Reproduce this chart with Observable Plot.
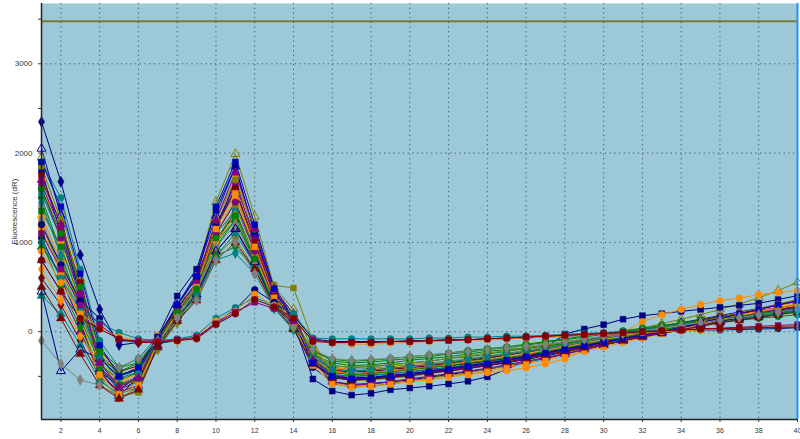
<!DOCTYPE html>
<html><head><meta charset="utf-8">
<script src="https://cdn.jsdelivr.net/npm/d3@7"></script>
<script src="https://cdn.jsdelivr.net/npm/@observablehq/plot@0.6"></script>
<style>
html,body{margin:0;padding:0;background:#fff;}
#chart svg{display:block;}
</style></head>
<body><div id="chart"></div>
<script>
const cycles = [1,2,3,4,5,6,7,8,9,10,11,12,13,14,15,16,17,18,19,20,21,22,23,24,25,26,27,28,29,30,31,32,33,34,35,36,37,38,39,40];
const xTicks = [2,4,6,8,10,12,14,16,18,20,22,24,26,28,30,32,34,36,38,40];
const yTicks = [-500,0,500,1000,1500,2000,2500,3000,3500];
const yGrid = [0,1000,2000,3000];
const threshold = 3475;

const m01 = [2350,1680,860,250,-150,-120,-80,150,420,1150,1700,1050,500,150,-250,-420,-450,-440,-420,-400,-380,-360,-330,-300,-260,-220,-180,-140,-100,-60,-20,20,60,100,140,180,220,260,300,340];
const m02 = [1950,1350,600,-450,-700,-550,-100,250,650,1450,1990,1290,500,250,-200,-420,-480,-470,-450,-420,-390,-360,-330,-290,-250,-210,-170,-130,-90,-50,-10,40,90,140,190,250,310,380,460,554];
const m03 = [1800,1100,450,-400,-650,-500,-50,400,700,1360,1850,1100,450,100,-530,-665,-710,-690,-650,-630,-610,-585,-555,-505,-420,-325,-180,-26,30,79,140,180,202,228,250,273,295,318,360,404];
const m04 = [1700,1000,300,-350,-600,-450,-80,300,600,1250,1750,1000,420,150,-350,-550,-600,-590,-560,-520,-505,-490,-475,-460,-435,-405,-360,-305,-210,-120,-10,112,190,250,303,348,376,415,440,460];
const m05 = [1500,900,200,-300,-450,-350,-60,200,500,1100,1450,950,380,180,-250,-350,-380,-370,-350,-320,-300,-280,-250,-220,-200,-180,-150,-120,-90,-60,-30,0,30,60,80,110,130,150,170,190];
const m06 = [1650,1150,500,-400,-600,-500,-100,250,550,1200,1650,1050,420,120,-300,-480,-520,-510,-490,-470,-450,-430,-400,-370,-340,-300,-260,-220,-170,-120,-70,-20,30,80,120,160,200,240,270,300];
const m07 = [1900,1500,700,-100,-400,-300,-50,280,550,1200,1550,900,350,60,-300,-450,-470,-460,-440,-420,-400,-380,-350,-330,-300,-270,-230,-190,-150,-110,-70,-30,10,50,90,120,150,180,210,240];
const m08 = [600,300,-100,-500,-650,-550,-120,200,480,1000,1350,800,300,80,-300,-450,-470,-460,-440,-420,-400,-380,-360,-330,-300,-270,-230,-190,-150,-110,-70,-30,10,50,80,110,140,170,200,230];
const m09 = [1400,900,450,-250,-550,-400,-50,250,550,1150,1550,950,400,150,-300,-400,-420,-410,-390,-370,-350,-330,-300,-270,-240,-210,-180,-150,-110,-80,-40,0,40,80,110,150,180,210,240,270];
const m10 = [1200,700,200,-600,-720,-680,-150,150,450,1000,1400,900,520,490,-100,-500,-550,-540,-520,-500,-470,-440,-410,-380,-340,-300,-260,-220,-180,-140,-100,-60,-20,20,60,100,140,180,220,260];
const m11 = [2050,1300,350,-420,-720,-500,-80,300,650,1300,1850,1100,450,150,-300,-500,-540,-530,-510,-490,-460,-440,-410,-380,-350,-310,-270,-230,-190,-150,-100,-50,0,40,80,120,160,200,240,280];
const m12 = [1300,800,250,-200,-500,-400,-50,250,500,1100,1500,950,380,100,-200,-400,-430,-420,-400,-380,-360,-340,-310,-280,-250,-220,-180,-140,-110,-70,-30,10,50,90,130,170,210,250,290,330];
const m13 = [950,650,150,-350,-550,-450,-100,200,450,950,1250,800,320,80,-250,-380,-400,-390,-370,-350,-330,-300,-280,-250,-220,-190,-160,-130,-100,-60,-30,10,40,70,100,130,160,190,210,240];
const m14 = [800,450,0,-450,-680,-600,-150,150,400,900,1150,750,300,50,-350,-500,-520,-510,-490,-470,-450,-420,-390,-360,-330,-290,-250,-210,-170,-130,-90,-50,-10,30,70,110,150,190,230,260];
const m15 = [1550,1050,400,-300,-500,-400,-70,220,520,1100,1350,850,350,100,-250,-420,-440,-430,-410,-390,-370,-350,-320,-290,-260,-230,-200,-160,-120,-80,-40,0,40,70,100,130,160,190,220,250];
const m16 = [1050,600,100,-450,-600,-500,-80,300,600,1200,1600,950,380,60,-400,-560,-590,-580,-560,-540,-510,-480,-450,-420,-380,-340,-300,-250,-200,-150,-100,-50,0,40,80,120,160,200,240,280];
const m17 = [1750,1200,550,-200,-450,-380,-60,260,540,1150,1600,1000,400,130,-280,-430,-450,-440,-420,-400,-380,-350,-320,-290,-260,-230,-190,-150,-110,-70,-30,10,50,90,130,170,200,230,260,290];
const m18 = [1100,800,300,-250,-600,-550,-200,100,380,850,1050,700,320,100,-250,-380,-400,-390,-370,-350,-330,-300,-270,-240,-210,-180,-150,-120,-90,-60,-30,10,40,70,100,140,170,200,230,260];
const m19 = [1350,950,350,-250,-480,-420,-80,220,480,1000,1250,800,330,90,-200,-330,-350,-340,-320,-300,-280,-250,-230,-200,-180,-150,-120,-90,-60,-30,0,30,60,90,120,150,170,190,210,230];
const m20 = [700,350,-50,-380,-550,-480,-90,220,480,1000,1300,850,350,120,-300,-450,-470,-460,-440,-420,-400,-370,-340,-310,-280,-250,-210,-170,-130,-90,-50,-10,30,70,110,150,190,230,260,290];
const m21 = [1600,1050,400,-350,-600,-500,-100,230,500,1100,1450,900,360,100,-330,-480,-500,-490,-470,-450,-420,-400,-370,-340,-310,-270,-230,-190,-150,-110,-70,-30,10,50,90,130,170,210,250,280];
const m22 = [400,200,-150,-550,-700,-620,-180,120,380,850,1100,750,300,40,-350,-480,-500,-490,-470,-450,-430,-400,-370,-340,-310,-280,-240,-200,-160,-120,-80,-40,0,40,80,110,140,170,200,230];
const m23 = [1250,750,250,-350,-600,-500,-120,200,450,950,1200,780,320,60,-300,-420,-440,-430,-410,-390,-370,-340,-310,-280,-250,-220,-190,-150,-110,-70,-30,10,50,80,110,140,170,200,230,250];
const m24 = [450,-440,-200,-300,-500,-420,-100,180,420,900,1150,780,300,30,-350,-500,-520,-510,-490,-470,-440,-410,-380,-350,-320,-280,-240,-200,-160,-120,-80,-40,0,40,80,120,160,190,220,250];
const m25 = [1850,1250,500,-500,-750,-620,-120,220,500,1250,1700,1150,480,200,-300,-580,-620,-610,-580,-550,-520,-490,-460,-420,-380,-340,-290,-240,-190,-140,-90,-40,10,60,110,160,210,260,310,360];
const m26 = [1000,500,50,-420,-600,-520,-130,150,400,850,950,700,280,40,-320,-460,-480,-470,-450,-430,-400,-380,-350,-320,-290,-260,-220,-180,-140,-100,-60,-20,20,60,100,140,170,200,230,260];
const m27 = [1450,850,300,-300,-520,-450,-100,180,420,800,880,650,260,20,-280,-420,-440,-430,-410,-390,-370,-340,-310,-280,-250,-220,-180,-140,-100,-60,-20,20,50,80,110,140,160,180,200,220];
const m28 = [1700,1200,450,-350,-620,-520,-100,250,550,1250,1780,1150,480,200,-320,-560,-600,-590,-560,-530,-500,-470,-440,-410,-370,-330,-290,-250,-200,-150,-100,-50,0,50,100,150,200,250,300,340];
const m29 = [1150,650,150,-480,-700,-600,-120,200,500,1150,1550,950,380,80,-380,-580,-620,-610,-590,-560,-540,-510,-480,-440,-400,-360,-320,-270,-220,-170,-120,-70,-20,30,80,130,180,230,270,310];
const m30 = [500,150,-250,-600,-750,-650,-170,120,350,800,1000,700,280,30,-360,-520,-540,-530,-510,-490,-460,-440,-410,-380,-340,-300,-260,-220,-180,-140,-100,-60,-20,20,60,100,130,160,190,220];
const m31 = [1600,1100,500,-200,-400,-350,-80,220,480,1050,1300,820,300,40,-220,-310,-330,-320,-300,-280,-260,-240,-210,-190,-170,-140,-110,-80,-50,-20,10,40,70,100,130,150,170,190,210,230];
const m32 = [1900,1400,650,-150,-500,-400,-60,300,620,1400,1900,1200,480,120,-350,-500,-530,-520,-500,-480,-450,-420,-390,-360,-320,-280,-240,-200,-160,-120,-80,-40,0,50,100,150,200,250,300,350];
const g01 = [-100,-360,-540,-600,-400,-300,-100,150,350,800,1000,650,280,50,-200,-300,-320,-310,-300,-280,-260,-240,-220,-200,-180,-160,-140,-110,-80,-50,-20,10,40,70,100,130,160,190,220,250];
const l01 = [1200,750,350,150,-100,-110,-130,-100,-70,100,250,470,330,180,-80,-110,-110,-110,-110,-100,-100,-90,-90,-80,-80,-70,-60,-50,-40,-30,-20,-10,0,10,20,20,25,30,35,45];
const l02 = [1000,600,250,100,-10,-80,-100,-80,-40,150,270,380,300,200,-70,-80,-80,-80,-80,-80,-70,-70,-60,-60,-50,-50,-40,-30,-20,-10,0,10,15,20,25,30,35,40,45,50];
const l03 = [900,550,200,50,-60,-100,-110,-110,-60,120,230,420,290,150,-100,-130,-140,-140,-130,-120,-110,-100,-100,-90,-80,-70,-60,-50,-40,-30,-20,-10,0,10,20,30,40,50,60,70];
const l04 = [1100,700,300,80,-90,-100,-110,-90,-60,90,220,330,260,120,-90,-120,-120,-120,-110,-110,-100,-100,-90,-80,-70,-60,-50,-40,-30,-20,-10,0,10,20,30,40,50,60,70,80];
const l05 = [800,450,150,30,-80,-120,-120,-100,-80,80,200,360,280,150,-110,-120,-120,-120,-110,-110,-100,-90,-90,-80,-70,-60,-50,-40,-30,-20,-10,0,10,20,30,35,40,45,50,55];

const wells = ["m01","m02","m03","m04","m05","m06","m07","m08","m09","m10","m11","m12","m13","m14","m15","m16","m17","m18","m19","m20","m21","m22","m23","m24","m25","m26","m27","m28","m29","m30","m31","m32","g01","l01","l02","l03","l04","l05"];
const valuesList = [m01,m02,m03,m04,m05,m06,m07,m08,m09,m10,m11,m12,m13,m14,m15,m16,m17,m18,m19,m20,m21,m22,m23,m24,m25,m26,m27,m28,m29,m30,m31,m32,g01,l01,l02,l03,l04,l05];
const palette = ["#000080","#808000","#000080","#ff8c00","#008000","#800080","#008080","#800000","#808080","#808000","#0000c0","#ff8c00","#008000","#800080","#008080","#000080","#800000","#808000","#008000","#ff8c00","#800080","#008080","#808080","#000080","#808000","#008000","#008080","#800080","#ff8c00","#800000","#008000","#0000c0","#808080","#000080","#008080","#ff8c00","#800080","#800000"];
const shapes = ["diamond","triangle","square","circle","circle","square","circle","diamond","square","square","triangle","triangle","triangle","triangle","square","circle","square","diamond","square","diamond","circle","triangle","diamond","triangle","circle","diamond","diamond","triangle","square","triangle","circle","square","diamond","circle","circle","circle","square","circle"];
const hollow = [false,true,false,false,false,false,false,false,false,false,true,false,false,false,false,false,false,false,false,false,false,false,false,true,false,false,false,false,false,false,false,false,false,false,false,false,false,false];

const rows = [];
wells.forEach((w, i) => valuesList[i].forEach((v, j) => rows.push({well: w, cycle: cycles[j], value: v, idx: i})));

const marks = [
  Plot.frame({fill: "#9cc8d7", stroke: null}),
  Plot.ruleY(yGrid, {stroke: "#44566a", strokeWidth: 1, strokeDasharray: "1.2,3.5"}),
  Plot.ruleX(xTicks.filter(d => d < 40), {stroke: "#44566a", strokeWidth: 1, strokeDasharray: "1.2,3.5"}),
  Plot.ruleY([threshold], {stroke: "#7d7a35", strokeWidth: 2})
];
wells.forEach((w, i) => {
  const d = rows.filter(r => r.idx === i);
  marks.push(Plot.line(d, {x: "cycle", y: "value", stroke: palette[i], strokeWidth: 1}));
});
wells.forEach((w, i) => {
  const d = rows.filter(r => r.idx === i);
  marks.push(Plot.dot(d, {x: "cycle", y: "value", symbol: () => shapes[i], r: 3.3,
    fill: hollow[i] ? "none" : palette[i], stroke: palette[i], strokeWidth: hollow[i] ? 1 : 0.5}));
});
marks.push(Plot.ruleX([1], {stroke: "#222", strokeWidth: 1.5}));
marks.push(Plot.ruleY([-983], {stroke: "#222", strokeWidth: 1.5}));
marks.push(Plot.ruleX([40], {stroke: "#1e90ff", strokeWidth: 2}));
marks.push(Plot.axisY({ticks: yTicks, tickSize: 3, tickFormat: d => (d % 1000 === 0 ? String(d) : ""),
  label: "Fluorescence (dR)", labelAnchor: "center", labelArrow: "none", labelOffset: 30, fontSize: 8}));
marks.push(Plot.axisX({ticks: xTicks, tickSize: 3, tickFormat: d => String(d), label: null, fontSize: 7}));

const chart = Plot.plot({
  width: 800, height: 439,
  marginTop: 3, marginBottom: 20, marginLeft: 41, marginRight: 3,
  x: {domain: [1, 40]},
  y: {domain: [-983, 3675]},
  symbol: {type: "identity"},
  style: {fontFamily: "Liberation Sans, Arial, sans-serif", fontSize: "7px", color: "#333", background: "#fff"},
  marks
});
document.getElementById("chart").appendChild(chart);
</script>
</body></html>
